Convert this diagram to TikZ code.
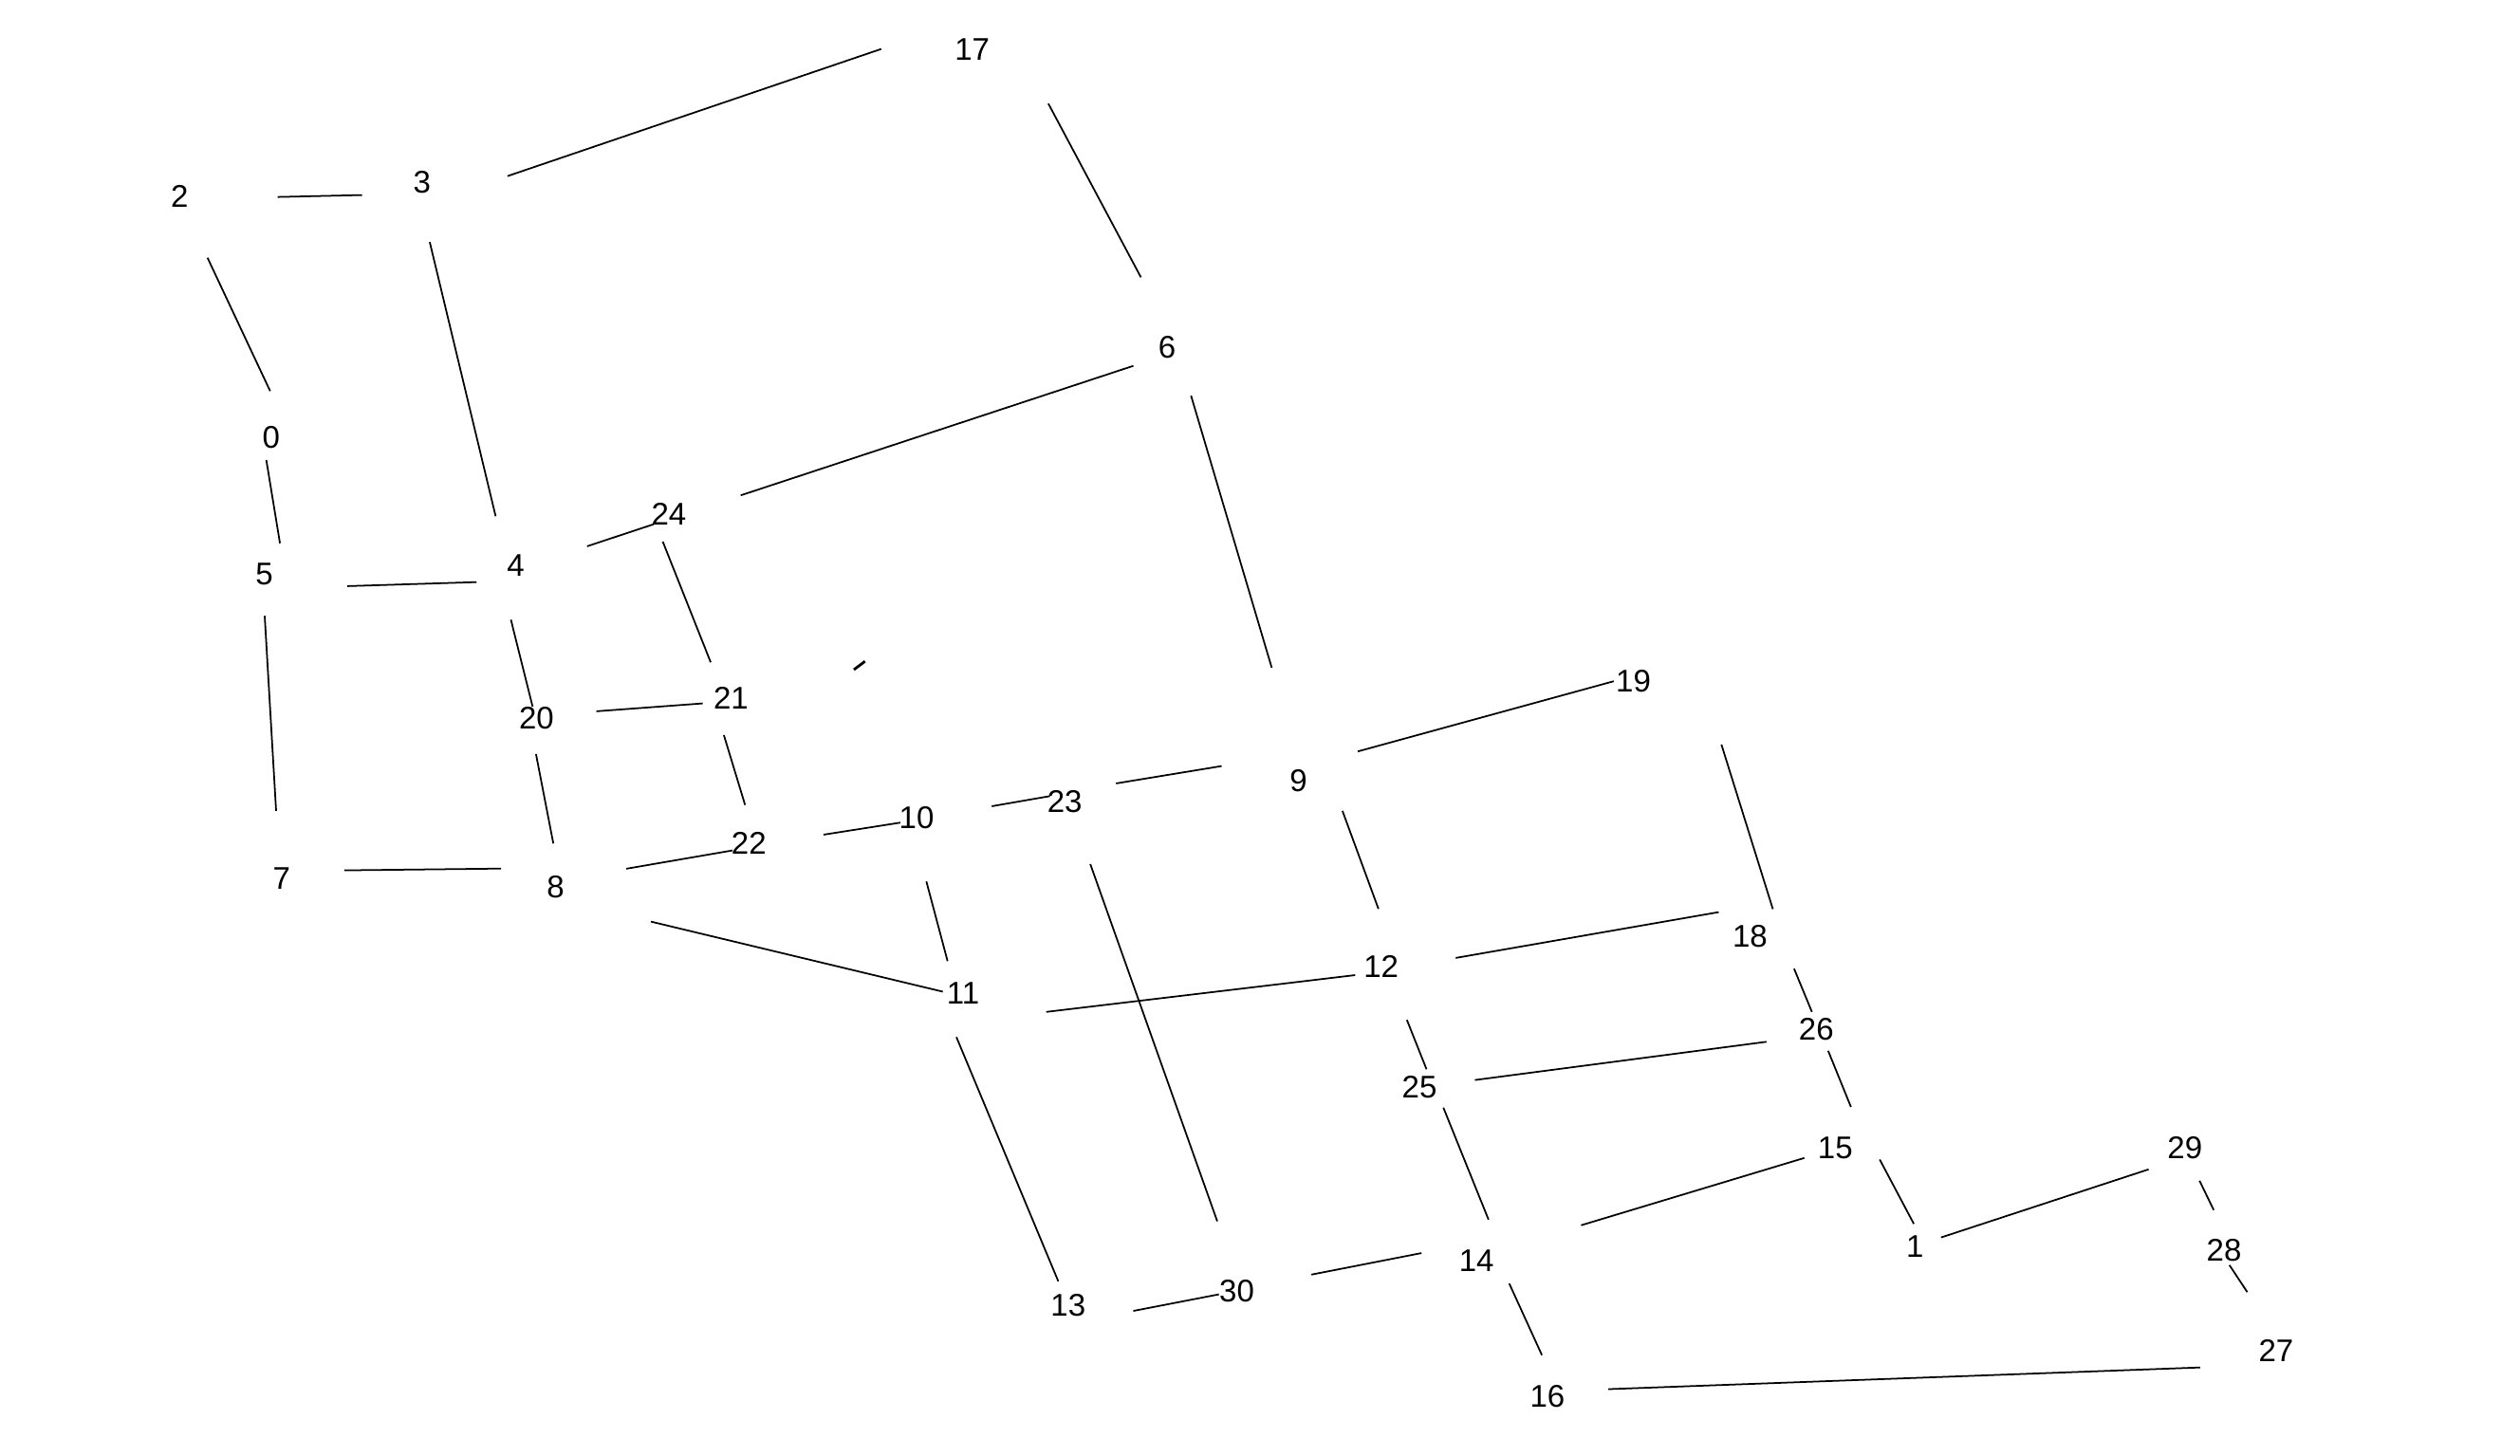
\documentclass[tikz,border=0pt]{standalone}
\usepackage{fontspec}
\setmainfont{Liberation Sans}
\usetikzlibrary{calc}

\begin{document}
\begin{tikzpicture}[
  x=0.016939cm, y=-0.016939cm,
  vtx/.style={font=\fontsize{9.4}{10}\selectfont, inner sep=0pt},
  edge/.style={line width=0.5pt, black}
]
\useasboundingbox (0,0) rectangle (1568,906);
% vertices
\foreach \i/\x/\y in {0/168.8/272.5, 1/1191.5/775.9, 2/111.8/122.4, 3/262.6/113.2,
    4/320.9/351.8, 5/164.4/357.1, 6/726.2/215.9, 7/175.2/547, 8/345.7/552,
    9/807.9/486, 10/570.3/508.7, 11/599.2/618.2, 12/859.4/601.5, 13/664.6/812.7,
    14/918.7/784.4, 15/1141.9/714.6, 16/962.8/868.9, 17/604.9/30.5, 18/1088.9/582.9,
    19/1016.3/424, 20/333.8/447.1, 21/454.8/434.3, 22/466/525, 23/662.5/498.8,
    24/416.2/319.8, 25/883.2/676.9, 26/1130.1/640.9, 27/1416.2/840.4,
    28/1383.8/778.3, 29/1359.5/714.6, 30/769.6/803.6}
  \node[vtx] (v\i) at (\x,\y) {\i};
% links, clipped short of the labels
\foreach \a/\b/\p/\q/\r/\s in {2/3/61/0.2/-37.3/8.2, 3/17/53.2/-3.6/-56.6/0,
    17/6/47.4/34/-16.3/-43.3, 2/0/17.3/38/-0.7/-29.1, 3/4/4.8/37.5/-12.5/-30.5,
    0/5/-3.1/13.8/9.8/-19, 24/6/44.7/-11.5/-21/11.8, 6/9/14.9/30.4/-16.6/-70.4,
    4/24/44.4/-11.8/-9.5/6.5, 5/4/51.8/7.7/-24.4/10.5, 5/7/0.3/26.2/-3.4/-42.3,
    4/20/-3/33.9/-2.4/-7.3, 24/21/-3.8/17.3/-12.6/-22.1, 20/21/37.3/-4.4/-17.6/3.5,
    20/8/-0.3/22.2/-1.4/-27, 21/22/-4.4/23.2/-2.4/-24, 7/8/39/-5.3/-33.9/-11.4,
    8/22/44/-11.3/-10.2/4.3, 22/10/46.4/-5.5/-10.1/3.3, 8/11/59.3/21.6/-12.6/-1,
    10/23/46.8/-6.9/-9.2/-3.3, 23/9/31.9/-11.2/-47.8/-9.2, 9/19/36.9/-18.3/-12.2/0,
    9/12/27.4/18.7/-1.7/-35.8, 10/11/6.1/39.9/-9.6/-20, 23/30/15.9/39/-12.2/-43.5,
    12/18/46.4/-5.3/-19.5/-15.2, 19/18/54.8/39.4/14.2/-17.1, 11/12/51.8/11.6/-16.2/5.4,
    11/13/-4.1/27.3/-6.1/-15.2, 13/30/40.6/3.2/-11.2/2, 30/14/46.4/-10.3/-34.2/-4.5,
    12/25/16/33.3/4.4/-11.4, 25/26/34.5/-4.7/-31/7.5, 25/14/14.9/12.5/7.5/-25.3,
    14/15/65.1/-21.8/-19.2/6.1, 14/16/20.4/14.5/-3.4/-25.5, 16/27/37.9/-4.3/-47.3/10.7,
    18/26/27.4/20/-2.7/-11.1, 26/15/7.4/13.1/9.8/-25.6, 15/1/27.7/7.1/-0.7/-14.2,
    1/29/16.2/-5.7/-22.6/13.2, 29/28/9.1/20.3/-6.4/-25.2, 28/27/3.4/9.1/-17.9/-36.2}
  \draw[edge] ($(v\a)+(\p,\q)$) -- ($(v\b)+(\r,\s)$);
% stray tick
\coordinate (t1) at (531.3,416.8);
\coordinate (t2) at (538.2,411.6);
\draw[edge, line width=0.8pt] (t1) -- (t2);
\end{tikzpicture}
\end{document}
